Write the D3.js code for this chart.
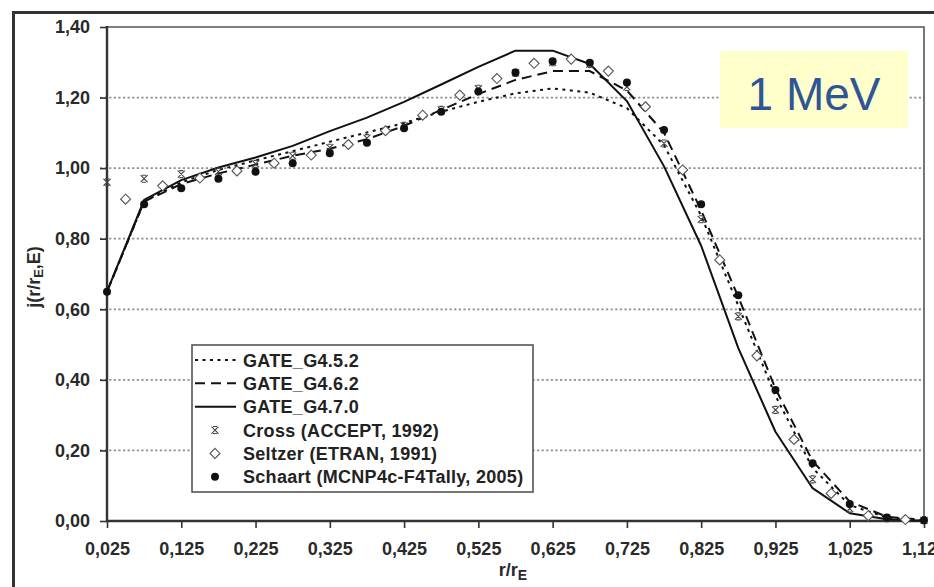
<!DOCTYPE html>
<html>
<head>
<meta charset="utf-8">
<script src="https://cdn.jsdelivr.net/npm/d3@7"></script>
<style>
  html, body { margin: 0; padding: 0; background: #fff; }
  svg { display: block; }
  text { font-family: "Liberation Sans", Arial, sans-serif; }
</style>
</head>
<body>
<svg id="chart" width="934" height="587"></svg>
<script>
// ---- data ----
const rGrid = [0.025, 0.075, 0.125, 0.175, 0.225, 0.275, 0.325, 0.375, 0.425, 0.475, 0.525, 0.575,
               0.625, 0.675, 0.725, 0.775, 0.825, 0.875, 0.925, 0.975, 1.025, 1.075, 1.125];
const gate452 = [0.650, 0.905, 0.960, 0.995, 1.022, 1.048, 1.075, 1.101, 1.128, 1.160, 1.188, 1.212,
                 1.226, 1.214, 1.170, 1.065, 0.865, 0.610, 0.355, 0.150, 0.045, 0.010, 0.002];
const gate462 = [0.650, 0.905, 0.955, 0.985, 1.010, 1.035, 1.055, 1.082, 1.120, 1.165, 1.210, 1.250,
                 1.275, 1.275, 1.220, 1.100, 0.880, 0.635, 0.375, 0.170, 0.055, 0.012, 0.003];
const gate470 = [0.650, 0.910, 0.966, 1.002, 1.030, 1.063, 1.105, 1.143, 1.188, 1.237, 1.287, 1.333,
                 1.333, 1.295, 1.190, 1.005, 0.780, 0.490, 0.253, 0.093, 0.022, 0.005, 0.001];
const crossVals = [0.960, 0.970, 0.983, 0.990, 1.012, 1.035, 1.058, 1.085, 1.120, 1.165, 1.225, 1.270,
                   1.300, 1.295, 1.230, 1.070, 0.855, 0.580, 0.315, 0.118, 0.035, 0.008, 0.002];
const schaartVals = [0.650, 0.898, 0.943, 0.970, 0.990, 1.014, 1.042, 1.072, 1.113, 1.160, 1.217, 1.271,
                     1.303, 1.299, 1.243, 1.108, 0.898, 0.640, 0.371, 0.164, 0.048, 0.010, 0.002];
const seltzerR = [0.05, 0.10, 0.15, 0.20, 0.25, 0.30, 0.35, 0.40, 0.45, 0.50, 0.55, 0.60, 0.65, 0.70,
                  0.75, 0.80, 0.85, 0.90, 0.95, 1.00, 1.05, 1.10];
const seltzerVals = [0.912, 0.950, 0.972, 0.992, 1.014, 1.037, 1.067, 1.106, 1.150, 1.207, 1.254, 1.297,
                     1.309, 1.275, 1.174, 0.995, 0.740, 0.468, 0.231, 0.078, 0.015, 0.004];
const xTicks = [0.025, 0.125, 0.225, 0.325, 0.425, 0.525, 0.625, 0.725, 0.825, 0.925, 1.025, 1.125];
const yTicks = [0.0, 0.2, 0.4, 0.6, 0.8, 1.0, 1.2, 1.4];
const legendLabels = ["GATE_G4.5.2", "GATE_G4.6.2", "GATE_G4.7.0",
                      "Cross (ACCEPT, 1992)", "Seltzer (ETRAN, 1991)", "Schaart (MCNP4c-F4Tally, 2005)"];
const energyLabel = "1 MeV";

// ---- layout ----
const svg = d3.select("#chart");
const L = 107, R = 924, T = 27, B = 521;
const x = d3.scaleLinear().domain([0.025, 1.125]).range([L, R]);
const y = d3.scaleLinear().domain([0, 1.4]).range([B, T]);

// outer frame (cropped at right & bottom)
svg.append("path").attr("d", `M13.5,600 L13.5,12.5 L950,12.5`)
  .attr("fill", "none").attr("stroke", "#333").attr("stroke-width", 3);

// gridlines
svg.append("g").selectAll("line").data(yTicks.filter(v => v > 0 && v < 1.4)).join("line")
  .attr("x1", L - 7).attr("x2", R).attr("y1", d => y(d)).attr("y2", d => y(d))
  .attr("stroke", "#8f8f8f").attr("stroke-width", 1.8).attr("stroke-dasharray", "2.2,2.4");

// plot border top / right
svg.append("path").attr("d", `M${L},${T} L${R},${T} L${R},${B}`)
  .attr("fill", "none").attr("stroke", "#555").attr("stroke-width", 1.6);

// axes
const fmtX = d => d3.format(".3f")(d).replace(".", ",");
const fmtY = d => d3.format(".2f")(d).replace(".", ",");
const xAxis = svg.append("g").attr("transform", `translate(0,${B})`)
  .call(d3.axisBottom(x).tickValues(xTicks).tickFormat(fmtX).tickSize(7).tickSizeOuter(0).tickPadding(14));
const yAxis = svg.append("g").attr("transform", `translate(${L},0)`)
  .call(d3.axisLeft(y).tickValues(yTicks).tickFormat(fmtY).tickSize(7).tickSizeOuter(0).tickPadding(10));
[xAxis, yAxis].forEach(a => {
  a.select(".domain").remove();
  a.selectAll(".tick line").attr("stroke", "#333").attr("stroke-width", 1.6);
  a.selectAll(".tick text").attr("font-size", 18).attr("font-weight", "bold")
    .attr("fill", "#2a2a2a").attr("font-family", "'Liberation Sans', Arial, sans-serif");
});
svg.append("line").attr("x1", L).attr("x2", L).attr("y1", T - 1).attr("y2", B + 1)
  .attr("stroke", "#333").attr("stroke-width", 2.4);
svg.append("line").attr("x1", L - 1).attr("x2", R + 1).attr("y1", B).attr("y2", B)
  .attr("stroke", "#333").attr("stroke-width", 2.4);

// axis titles
const yt = svg.append("text").attr("transform", "translate(40,277) rotate(-90)")
  .attr("text-anchor", "middle").attr("font-size", 18).attr("font-weight", "bold").attr("fill", "#2a2a2a");
yt.append("tspan").text("j(r/r");
yt.append("tspan").attr("font-size", 13).attr("dy", 3).text("E");
yt.append("tspan").attr("dy", -3).text(",E)");
const xt = svg.append("text").attr("x", 513).attr("y", 576)
  .attr("text-anchor", "middle").attr("font-size", 18).attr("font-weight", "bold").attr("fill", "#2a2a2a");
xt.append("tspan").text("r/r");
xt.append("tspan").attr("font-size", 14).attr("dy", 4).text("E");

// lines
const styles = [
  {vals: gate452, dash: "3,4.5", w: 2},
  {vals: gate462, dash: "10,6", w: 2},
  {vals: gate470, dash: null, w: 2}
];
const line = d3.line().x((d, i) => x(rGrid[i])).y(d => y(d));
styles.forEach(s => {
  svg.append("path").datum(s.vals).attr("d", line)
    .attr("fill", "none").attr("stroke", "#111").attr("stroke-width", s.w)
    .attr("stroke-dasharray", s.dash).attr("stroke-linejoin", "round");
});

// markers
const crossPath = "M-3.5,-3.5 L3.5,3.5 M3.5,-3.5 L-3.5,3.5 M-2,-3.5 L2,-3.5 M-2,3.5 L2,3.5";
const diamondPath = "M0,-5 L5,0 L0,5 L-5,0 Z";
function drawCross(g, cx, cy) {
  g.append("path").attr("d", crossPath).attr("transform", `translate(${cx},${cy})`)
    .attr("fill", "none").attr("stroke", "#444").attr("stroke-width", 1.1);
}
function drawDiamond(g, cx, cy) {
  g.append("path").attr("d", diamondPath).attr("transform", `translate(${cx},${cy})`)
    .attr("fill", "#fff").attr("stroke", "#555").attr("stroke-width", 1.1);
}
function drawDot(g, cx, cy) {
  g.append("circle").attr("cx", cx).attr("cy", cy).attr("r", 4).attr("fill", "#111");
}
const mg = svg.append("g");
crossVals.forEach((v, i) => drawCross(mg, x(rGrid[i]), y(v)));
seltzerVals.forEach((v, i) => drawDiamond(mg, x(seltzerR[i]), y(v)));
schaartVals.forEach((v, i) => drawDot(mg, x(rGrid[i]), y(v)));

// legend
const lg = svg.append("g");
lg.append("rect").attr("x", 192).attr("y", 345).attr("width", 341).attr("height", 147)
  .attr("fill", "#fff").attr("stroke", "#555").attr("stroke-width", 1.6);
legendLabels.forEach((lab, i) => {
  const cy = 360 + i * 23.35;
  if (i < 3) {
    lg.append("line").attr("x1", 195).attr("x2", 236).attr("y1", cy).attr("y2", cy)
      .attr("stroke", "#111").attr("stroke-width", 2).attr("stroke-dasharray", styles[i].dash);
  } else if (i === 3) drawCross(lg, 215, cy);
  else if (i === 4) drawDiamond(lg, 215, cy);
  else drawDot(lg, 215, cy);
  lg.append("text").attr("x", 243).attr("y", cy + 6.5).attr("font-size", 18)
    .attr("font-weight", "bold").attr("fill", "#222").attr("letter-spacing", 0.3).text(lab);
});

// energy label
svg.append("rect").attr("x", 720).attr("y", 51).attr("width", 188).attr("height", 77).attr("fill", "#ffffcc");
svg.append("text").attr("x", 814).attr("y", 110).attr("text-anchor", "middle")
  .attr("font-family", "'DejaVu Sans', Verdana, sans-serif").attr("font-size", 46)
  .attr("fill", "#2f5597").text(energyLabel);
</script>
</body>
</html>
